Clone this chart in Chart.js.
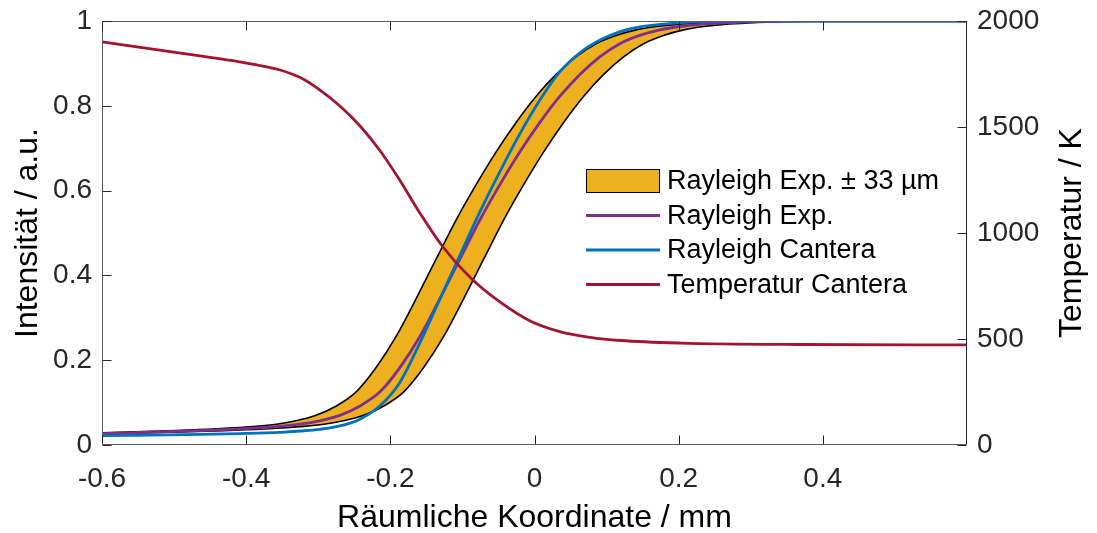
<!DOCTYPE html>
<html>
<head>
<meta charset="utf-8">
<script src="https://cdn.jsdelivr.net/npm/chart.js@4.4.1/dist/chart.umd.min.js"></script>
<style>
  html, body { margin: 0; padding: 0; background: #ffffff; }
  #wrap { width: 1097px; height: 533px; }
</style>
</head>
<body>
<div id="wrap"><canvas id="c" width="1097" height="533"></canvas></div>
<script>
// Tick positions
const xTicks = [-0.6, -0.4, -0.2, 0, 0.2, 0.4];
const intensityTicks = [0, 0.2, 0.4, 0.6, 0.8, 1];
const tempTicks = [0, 500, 1000, 1500, 2000];

// Rayleigh intensity, experiment (mm, a.u.)
const expX = [-0.65, -0.6, -0.464, -0.409, -0.353, -0.325, -0.298, -0.27, -0.242, -0.214,
              -0.187, -0.159, -0.131, -0.103, -0.076, -0.048, -0.02, 0.008, 0.035, 0.063,
              0.091, 0.119, 0.146, 0.174, 0.202, 0.23, 0.271, 0.313, 0.396, 0.65];
const expI = [0.025, 0.027, 0.034, 0.038, 0.044, 0.049, 0.057, 0.070, 0.092, 0.126,
              0.182, 0.256, 0.346, 0.440, 0.530, 0.614, 0.692, 0.762, 0.822, 0.874,
              0.916, 0.947, 0.966, 0.979, 0.987, 0.992, 0.996, 0.999, 1.0, 1.0];

// Spatial uncertainty of the experiment (mm)
const shiftMm = 0.033;

// Rayleigh intensity, Cantera simulation (mm, a.u.)
const canteraX = [-0.6, -0.464, -0.409, -0.353, -0.325, -0.298, -0.27, -0.242, -0.214, -0.187,
                  -0.159, -0.131, -0.103, -0.076, -0.048, -0.02, 0.008, 0.035, 0.063, 0.091,
                  0.119, 0.146, 0.202, 0.257, 0.6];
const canteraI = [0.022, 0.025, 0.027, 0.030, 0.033, 0.037, 0.045, 0.061, 0.093, 0.147,
                  0.241, 0.345, 0.449, 0.549, 0.645, 0.735, 0.815, 0.880, 0.925, 0.955,
                  0.975, 0.986, 0.996, 1.0, 1.0];

// Temperature, Cantera simulation (mm, K)
const tempX = [-0.6, -0.52, -0.464, -0.409, -0.381, -0.353, -0.325, -0.298, -0.27, -0.242,
               -0.214, -0.187, -0.159, -0.127, -0.087, -0.048, -0.006, 0.035, 0.077, 0.119,
               0.202, 0.368, 0.6];
const tempK = [1902, 1863, 1835, 1807, 1790, 1769, 1733, 1675, 1599, 1505,
               1387, 1250, 1094, 934, 783, 675, 585, 535, 508, 493,
               481, 474, 472];

const toPoints = (xs, ys, dx = 0) => xs.map((x, i) => ({ x: x + dx, y: ys[i] }));

const FONT = "'Liberation Sans', Arial, Helvetica, sans-serif";
const AXIS = '#262626';
const BOX = '#5c5c5c';
const TICK_LEN = 9;

const framePlugin = {
  id: 'frame',
  afterDraw(chart) {
    const { ctx, chartArea: a, scales } = chart;
    const L = Math.round(a.left) + 0.5, R = Math.round(a.right) - 0.5;
    const T = Math.round(a.top) + 0.5, B = Math.round(a.bottom) - 0.5;
    ctx.save();
    ctx.lineWidth = 1;
    // box: left, bottom, top in grey, right axis darker
    ctx.strokeStyle = BOX;
    ctx.beginPath();
    ctx.moveTo(R, T); ctx.lineTo(L, T); ctx.lineTo(L, B); ctx.lineTo(R, B);
    ctx.stroke();
    ctx.strokeStyle = AXIS;
    ctx.beginPath(); ctx.moveTo(R, T); ctx.lineTo(R, B); ctx.stroke();

    // inward tick marks
    ctx.strokeStyle = AXIS;
    ctx.beginPath();
    scales.x.ticks.forEach(t => {
      const p = Math.round(scales.x.getPixelForValue(t.value)) + 0.5;
      ctx.moveTo(p, B); ctx.lineTo(p, B - TICK_LEN);
      ctx.moveTo(p, T); ctx.lineTo(p, T + TICK_LEN);
    });
    scales.y.ticks.forEach(t => {
      const p = Math.round(scales.y.getPixelForValue(t.value)) + 0.5;
      ctx.moveTo(L, p); ctx.lineTo(L + TICK_LEN, p);
    });
    scales.y2.ticks.forEach(t => {
      const p = Math.round(scales.y2.getPixelForValue(t.value)) + 0.5;
      ctx.moveTo(R, p); ctx.lineTo(R - TICK_LEN, p);
    });
    ctx.stroke();

    // axis titles
    ctx.fillStyle = '#000';
    ctx.font = `32px ${FONT}`;
    ctx.textAlign = 'center';
    ctx.textBaseline = 'middle';
    ctx.fillText('Räumliche Koordinate / mm', (a.left + a.right) / 2, 518);
    const midY = (a.top + a.bottom) / 2;
    ctx.save();
    ctx.translate(28, midY); ctx.rotate(-Math.PI / 2);
    ctx.fillText('Intensität / a.u.', 0, 0);
    ctx.restore();
    ctx.save();
    ctx.translate(1072, midY); ctx.rotate(-Math.PI / 2);
    ctx.fillText('Temperatur / K', 0, 0);
    ctx.restore();

    // legend
    const lx = a.left + 484, sw = 74, tx = a.left + 565;
    let row = 0;
    ctx.font = `27px ${FONT}`;
    ctx.textAlign = 'left';
    chart.data.datasets.forEach(ds => {
      if (!ds.label) return;
      const cy = a.top + 160 + row * 34.5;
      if (ds.legendKind === 'patch') {
        ctx.fillStyle = ds.backgroundColor;
        ctx.fillRect(lx, cy - 12, sw, 24);
        ctx.strokeStyle = '#000';
        ctx.lineWidth = 1;
        ctx.strokeRect(lx + 0.5, cy - 11.5, sw - 1, 23);
      } else {
        ctx.strokeStyle = ds.borderColor;
        ctx.lineWidth = ds.borderWidth;
        ctx.beginPath(); ctx.moveTo(lx, cy); ctx.lineTo(lx + sw, cy); ctx.stroke();
      }
      ctx.fillStyle = '#000';
      ctx.fillText(ds.label, tx, cy + 1);
      row++;
    });
    ctx.restore();
  }
};

const lineDefaults = { pointRadius: 0, cubicInterpolationMode: 'monotone', clip: 0 };

// vertical axes: no extra room reserved for half-labels above/below the plot
const noVPad = s => { s.paddingTop = 0; s.paddingBottom = 0; };

new Chart(document.getElementById('c'), {
  type: 'line',
  data: {
    datasets: [
      Object.assign({
        label: 'Rayleigh Exp. \u00B1 33 \u00B5m', legendKind: 'patch',
        data: toPoints(expX, expI, -shiftMm), yAxisID: 'y',
        borderColor: '#000000', borderWidth: 1.6, backgroundColor: '#EDB120',
        fill: '+1', order: 5
      }, lineDefaults),
      Object.assign({
        label: '', data: toPoints(expX, expI, shiftMm), yAxisID: 'y',
        borderColor: '#000000', borderWidth: 1.6, fill: false, order: 4
      }, lineDefaults),
      Object.assign({
        label: 'Rayleigh Exp.', data: toPoints(expX, expI), yAxisID: 'y',
        borderColor: '#7E2F8E', borderWidth: 2.8, fill: false, order: 3
      }, lineDefaults),
      Object.assign({
        label: 'Rayleigh Cantera', data: toPoints(canteraX, canteraI), yAxisID: 'y',
        borderColor: '#0072BD', borderWidth: 2.8, fill: false, order: 2
      }, lineDefaults),
      Object.assign({
        label: 'Temperatur Cantera', data: toPoints(tempX, tempK), yAxisID: 'y2',
        borderColor: '#A2142F', borderWidth: 2.8, fill: false, order: 1
      }, lineDefaults)
    ]
  },
  options: {
    responsive: false,
    animation: false,
    devicePixelRatio: 1,
    layout: { padding: { top: 21, left: 0, right: 0, bottom: 0 } },
    plugins: { legend: { display: false }, tooltip: { enabled: false } },
    scales: {
      x: {
        type: 'linear', min: -0.6, max: 0.6,
        afterBuildTicks: s => { s.ticks = xTicks.map(v => ({ value: v })); },
        afterFit: s => { s.height = 88; s.paddingLeft = 0; s.paddingRight = 0; },
        grid: { display: false, drawTicks: false },
        border: { display: false },
        ticks: {
          padding: 17, color: AXIS, font: { family: FONT, size: 28 },
          maxRotation: 0, autoSkip: false,
          callback: v => String(Math.round(v * 10) / 10)
        }
      },
      y: {
        type: 'linear', position: 'left', min: 0, max: 1,
        afterBuildTicks: s => { s.ticks = intensityTicks.map(v => ({ value: v })); },
        afterFit: s => { s.width = 102; noVPad(s); },
        grid: { display: false, drawTicks: false },
        border: { display: false },
        ticks: {
          padding: 10, color: AXIS, font: { family: FONT, size: 28 },
          callback: v => String(Math.round(v * 10) / 10)
        }
      },
      y2: {
        type: 'linear', position: 'right', min: 0, max: 2000,
        afterBuildTicks: s => { s.ticks = tempTicks.map(v => ({ value: v })); },
        afterFit: s => { s.width = 130; noVPad(s); },
        grid: { display: false, drawTicks: false },
        border: { display: false },
        ticks: {
          padding: 10, color: AXIS, font: { family: FONT, size: 28 },
          callback: v => String(v)
        }
      }
    }
  },
  plugins: [framePlugin]
});
</script>
</body>
</html>
